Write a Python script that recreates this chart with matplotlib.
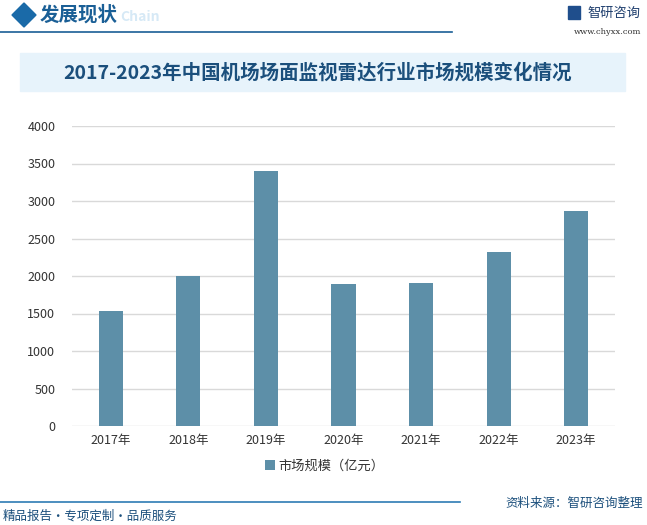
import numpy as np
import matplotlib.pyplot as plt
from matplotlib.patches import Rectangle, Polygon

plt.rcParams['font.family'] = ['Noto Sans CJK SC', 'DejaVu Sans']

# 数据
years = ['2017年', '2018年', '2019年', '2020年', '2021年', '2022年', '2023年']
market_size = [1540, 2000, 3400, 1890, 1910, 2320, 2870]
y_ticks = [0, 500, 1000, 1500, 2000, 2500, 3000, 3500, 4000]

W, H = 647, 525
fig = plt.figure(figsize=(W / 100, H / 100), dpi=100)

def fx(px):
    return px / W

def fy(py):
    return 1 - py / H

# 主图
ax = fig.add_axes([fx(72), fy(426), fx(615) - fx(72), fy(126) - fy(426)])
x = np.arange(len(years))
ax.bar(x, market_size, width=0.31, color='#5d8fa8', zorder=3, label='市场规模（亿元）')
ax.set_xlim(-0.5, len(years) - 0.5)
ax.set_ylim(0, 4000)
ax.set_yticks(y_ticks)
ax.set_yticklabels([str(v) for v in y_ticks])
ax.set_xticks(x)
ax.set_xticklabels(years)
ax.yaxis.grid(True, color='#d9d9d9', linewidth=1, zorder=0)
for s in ax.spines.values():
    s.set_visible(False)
ax.tick_params(axis='both', length=0, labelsize=9, colors='#333333')
ax.tick_params(axis='y', pad=12)
ax.tick_params(axis='x', pad=6)

# 图例
fig.legend(loc='center', bbox_to_anchor=(fx(325), fy(466)), frameon=False,
           fontsize=9.5, handlelength=0.7, handleheight=0.7, handletextpad=0.3,
           labelcolor='#333333')

# 顶部标题栏
fig.patches.append(Polygon([[fx(12), fy(15)], [fx(24), fy(3)], [fx(36), fy(15)], [fx(24), fy(27)]],
                           closed=True, transform=fig.transFigure, color='#1a6aa8'))
fig.text(fx(40), fy(15), '发展现状', fontsize=14, fontweight='bold', color='#1a5f96',
         va='center', ha='left')
fig.text(fx(120), fy(17), 'Chain', fontsize=10, fontweight='bold', color='#d6e9f6',
         va='center', ha='left')
fig.add_artist(plt.Line2D([0, fx(452)], [fy(32), fy(32)], color='#1a5f96', linewidth=1.2,
                          transform=fig.transFigure))
fig.patches.append(Rectangle((fx(568), fy(19)), fx(12), fy(6) - fy(19),
                             transform=fig.transFigure, color='#1f4e8c'))
fig.text(fx(587), fy(13), '智研咨询', fontsize=9.5, color='#1f3f6e', va='center', ha='left')
fig.text(fx(641), fy(32), 'www.chyxx.com', fontsize=6, color='#333333', va='center',
         ha='right', family=['DejaVu Serif'])

# 标题背景
fig.patches.append(Rectangle((fx(20), fy(91)), fx(625) - fx(20), fy(53) - fy(91),
                             transform=fig.transFigure, color='#e7f3fb', zorder=0))
fig.text(fx(318), fy(73), '2017-2023年中国机场场面监视雷达行业市场规模变化情况',
         fontsize=14, fontweight='bold', color='#1b4f7c', va='center', ha='center')

# 底部
fig.add_artist(plt.Line2D([0, fx(460)], [fy(502), fy(502)], color='#2e7bb4', linewidth=1.2,
                          transform=fig.transFigure))
fig.text(fx(643), fy(503), '资料来源：智研咨询整理', fontsize=9, color='#1b4f7c',
         va='center', ha='right')
fig.text(fx(3), fy(516), '精品报告・专项定制・品质服务', fontsize=9, color='#1b4f7c',
         va='center', ha='left')

fig.savefig('out.png', dpi=100)
